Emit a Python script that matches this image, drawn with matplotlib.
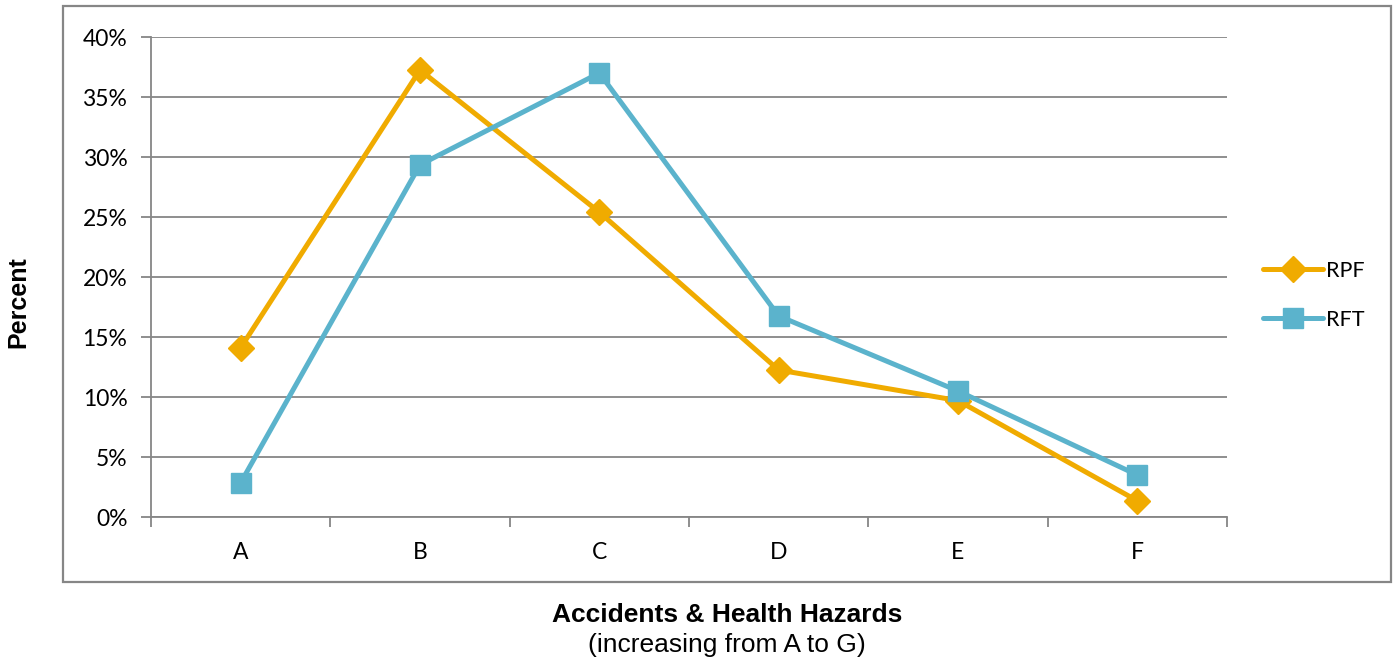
import matplotlib
matplotlib.use("Agg")
import matplotlib.pyplot as plt
from matplotlib.patches import Rectangle
from matplotlib.ticker import FixedLocator, PercentFormatter

categories = ["A", "B", "C", "D", "E", "F"]
rpf = [14.1, 37.25, 25.4, 12.25, 9.7, 1.35]
rft = [2.85, 29.35, 37.0, 16.75, 10.5, 3.5]
y_ticks = [0, 5, 10, 15, 20, 25, 30, 35, 40]

W, H = 1393, 662
fig = plt.figure(figsize=(W / 100, H / 100), dpi=100)

grey = "#868686"
orange = "#F0AB00"
blue = "#5BB3CC"

# outer chart frame
fig.patches.append(Rectangle((63 / W, 1 - 582 / H), (1391 - 63) / W, (582 - 6) / H,
                             transform=fig.transFigure, fill=False,
                             edgecolor=grey, linewidth=1.6))

ax = fig.add_axes([151 / W, 1 - 517 / H, (1227 - 151) / W, (517 - 37) / H])
x = list(range(len(categories)))
ax.plot(x, rpf, color=orange, lw=3.6, marker="D", ms=13, label="RPF",
        solid_capstyle="round", zorder=3)
ax.plot(x, rft, color=blue, lw=3.6, marker="s", ms=14, label="RFT",
        solid_capstyle="round", zorder=3)

ax.set_xlim(-0.5, len(categories) - 0.5)
ax.set_ylim(0, 40)
ax.set_yticks(y_ticks)
ax.yaxis.set_major_formatter(PercentFormatter(decimals=0))
ax.set_xticks(x)
ax.set_xticklabels(categories)
ax.xaxis.set_minor_locator(FixedLocator([i - 0.5 for i in range(len(categories) + 1)]))
ax.tick_params(axis="x", which="major", length=0, pad=18)
ax.tick_params(axis="x", which="minor", length=7, width=1.3, color=grey, direction="out")
ax.tick_params(axis="y", length=7, width=1.3, color=grey, pad=10)
for lab in ax.get_xticklabels() + ax.get_yticklabels():
    lab.set_fontfamily("Lato")
    lab.set_fontsize(16.5)

ax.grid(axis="y", color=grey, lw=1.3)
ax.set_axisbelow(True)
for s in ("top", "right"):
    ax.spines[s].set_visible(False)
for s in ("left", "bottom"):
    ax.spines[s].set_color(grey)
    ax.spines[s].set_linewidth(1.3)

leg = fig.legend(loc="center left", bbox_to_anchor=(1244 / W, 1 - 295.5 / H),
                 frameon=False, prop={"family": "Lato", "size": 15.5},
                 handlelength=2.75, handletextpad=0.15, labelspacing=1.35)

fig.text(18 / W, 1 - 302 / H, "Percent", rotation=90, ha="center", va="center",
         fontfamily="Liberation Sans", fontweight="bold", fontsize=18)
fig.text(727 / W, 1 - 615 / H, "Accidents & Health Hazards", ha="center", va="center",
         fontfamily="Liberation Sans", fontweight="bold", fontsize=19)
fig.text(727 / W, 1 - 645 / H, "(increasing from A to G)", ha="center", va="center",
         fontfamily="Liberation Sans", fontsize=19)

fig.savefig("out.png", dpi=100)
